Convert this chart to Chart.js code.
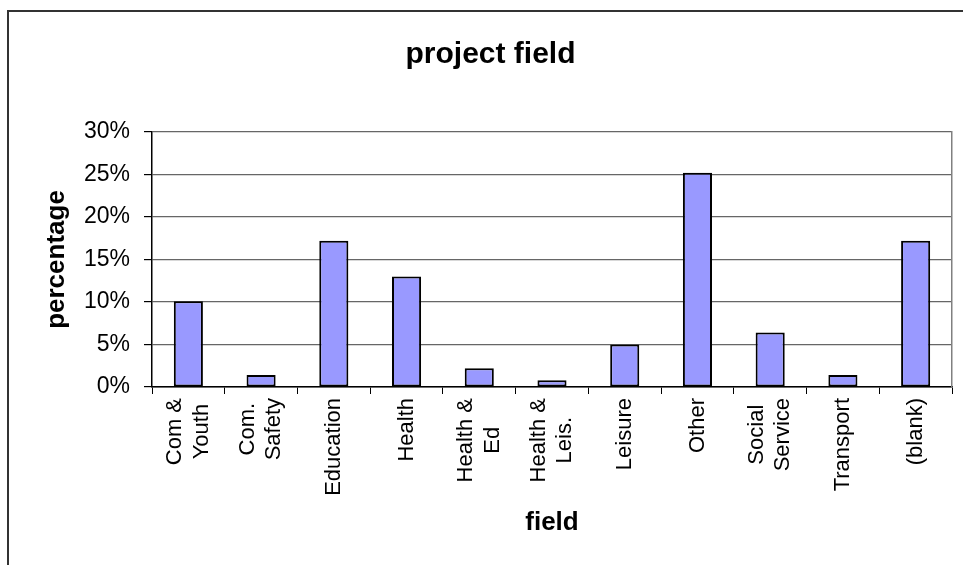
<!DOCTYPE html>
<html>
<head>
<meta charset="utf-8">
<script src="https://cdn.jsdelivr.net/npm/chart.js@4.4.0/dist/chart.umd.min.js"></script>
<style>
  html, body { margin: 0; padding: 0; background: #fff; overflow: hidden; }
  #frame {
    position: absolute; left: 7px; top: 10px;
    width: 990px; height: 600px;
    border-left: 2px solid #333; border-top: 2px solid #333;
  }
</style>
</head>
<body>
<div id="frame"><canvas id="fieldChart"></canvas></div>
<script>
(function () {

  const FIELDS = [
    ['Com &', 'Youth'], ['Com.', 'Safety'], 'Education', 'Health',
    ['Health &', 'Ed'], ['Health &', 'Leis.'], 'Leisure', 'Other',
    ['Social', 'Service'], 'Transport', '(blank)'
  ];
  const PERCENTAGES = [10.1, 1.4, 17.2, 13.0, 2.2, 0.8, 5.0, 25.2, 6.4, 1.4, 17.2];
  const Y_TICKS = [0, 5, 10, 15, 20, 25, 30];

  const FONT = 'Liberation Sans, Arial, sans-serif';
  const gridColor = '#808080';

  // excel centres wrapped lines on the tick and on each other;
  // chart.js starts them at the tick and right-aligns them
  const centreWrappedLabels = {
    id: 'centreWrappedLabels',
    beforeDraw(chart) {
      const ctx = chart.ctx;
      chart.scales.x.getLabelItems().forEach(item => {
        if (!Array.isArray(item.label) || item.label.length < 2 || item._centred) return;
        ctx.save();
        ctx.font = item.font.string;
        const w = Math.max(...item.label.map(l => ctx.measureText(l).width));
        ctx.restore();
        item.options.translation[0] -= item.font.lineHeight * (item.label.length - 1) / 2;
        item.options.translation[1] += w / 2;
        item.options.textAlign = 'center';
        item._centred = true;
      });
    }
  };

  new Chart(document.getElementById('fieldChart'), {
    type: 'bar',
    data: {
      labels: FIELDS,
      datasets: [{
        label: 'percentage',
        data: PERCENTAGES,
        backgroundColor: '#9999FF',
        borderColor: '#000000',
        borderWidth: 2,
        borderSkipped: false,
        barPercentage: 1,
        categoryPercentage: 0.4
      }]
    },
    options: {
      responsive: true,
      maintainAspectRatio: false,
      animation: false,
      devicePixelRatio: 1,
      layout: { padding: { left: 20, right: 47, top: 0, bottom: 0 } },
      plugins: {
        legend: { display: false },
        tooltip: { enabled: false },
        title: {
          display: true,
          text: 'project field',
          color: '#000',
          font: { family: FONT, size: 30, weight: 'bold' },
          padding: { top: 25, bottom: 59 }
        }
      },
      scales: {
        x: {
          grid: { display: true, drawOnChartArea: false, tickLength: 7, tickColor: '#000', offset: true },
          border: { color: '#000', width: 1.5 },
          ticks: {
            color: '#000', font: { family: FONT, size: 22 },
            maxRotation: 90, minRotation: 90, padding: 4, autoSkip: false
          },
          title: {
            display: true, text: 'field', color: '#000',
            font: { family: FONT, size: 26, weight: 'bold' },
            padding: { top: 0, bottom: 74 }
          },
          afterFit(scale) { scale.height = 225; }
        },
        y: {
          min: 0, max: 30,
          afterBuildTicks(scale) { scale.ticks = Y_TICKS.map(v => ({ value: v })); },
          grid: { color: '#666', tickLength: 8, tickColor: '#000', lineWidth: 1.2 },
          border: { color: '#000', width: 1.5 },
          ticks: {
            color: '#000', font: { family: FONT, size: 23 }, padding: 14,
            callback: v => v + '%'
          },
          title: {
            display: true, text: 'percentage', color: '#000',
            font: { family: FONT, size: 26, weight: 'bold' },
            padding: { top: 12, bottom: 0 }
          },
          afterFit(scale) { scale.width = 123; }
        },
        y2: {
          position: 'right', min: 0, max: 30,
          grid: { display: false },
          ticks: { display: false },
          border: { display: true, color: gridColor, width: 1.5 },
          afterFit(scale) { scale.width = 0; }
        }
      }
    },
    plugins: [centreWrappedLabels]
  });
})();
</script>
</body>
</html>
